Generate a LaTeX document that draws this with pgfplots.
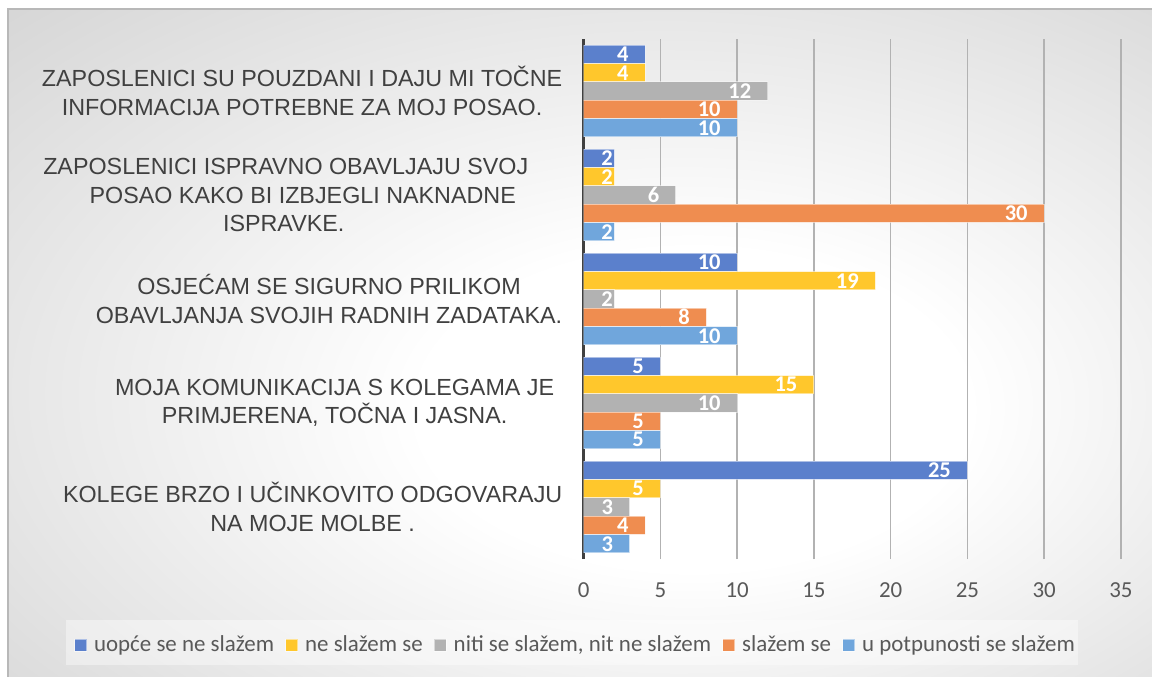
\documentclass[border=0pt]{standalone}
\usepackage{fontspec}
\setmainfont{Carlito}
\newfontfamily\arialf{Liberation Sans}
\usepackage{pgfplots}
\pgfplotsset{compat=1.18}

\definecolor{cA}{RGB}{91,128,204}
\definecolor{cB}{RGB}{255,199,44}
\definecolor{cC}{RGB}{178,178,178}
\definecolor{cD}{RGB}{239,141,80}
\definecolor{cE}{RGB}{112,166,220}
\pgfdeclareradialshading{bgshade}{\pgfpoint{6bp}{-6bp}}{color(0bp)=(white); color(12bp)=(white); color(48bp)=(black!21); color(72bp)=(black!29)}

\begin{document}
\begin{tikzpicture}
\path[use as bounding box] (0,0) rectangle (576bp,338.5bp);
\shade[shading=bgshade] (4bp,0) rectangle (576bp,334bp);
\draw[black!28, line width=0.8bp] (4bp,0) -- (4bp,334bp) -- (576bp,334bp);
% lighter box behind the legend
\fill[white, opacity=0.4] (33bp,5.8bp) rectangle (539bp,28.5bp);

\begin{axis}[at={(291.8bp,59bp)}, anchor=south west,
  scale only axis, width=268.65bp, height=260bp,
  xbar, bar width=0.176,
  xmin=0, xmax=35, ymin=0.5, ymax=5.5,
  xtick={0,5,...,35}, ytick={1,2,3,4,5},
  major tick length=0pt,
  axis line style={draw=none},
  xmajorgrids, grid style={black!30, line width=0.7bp},
  extra x ticks={0}, extra x tick labels={},
  extra x tick style={grid style={black!75, line width=1.8bp}},
  /pgf/number format/assume math mode=true,
  xticklabel style={font=\fontsize{11.5}{13}\selectfont, text=black!65, anchor=center, yshift=-15.5bp},
  yticklabel style={font=\arialf\fontsize{11.7}{14.2}\selectfont, text=black!75, align=center, anchor=east, inner sep=0pt, xshift=-10.5bp},
  yticklabels={
    {KOLEGE BRZO I UČINKOVITO ODGOVARAJU\\NA MOJE MOLBE .},
    {MOJA KOMUNIKACIJA S KOLEGAMA JE\hspace*{4bp}\\PRIMJERENA, TOČNA I JASNA.\hspace*{4bp}},
    {OSJEĆAM SE SIGURNO PRILIKOM\\OBAVLJANJA SVOJIH RADNIH ZADATAKA.},
    {ZAPOSLENICI ISPRAVNO OBAVLJAJU SVOJ\hspace*{17bp}\\POSAO KAKO BI IZBJEGLI NAKNADNE\hspace*{12bp}\\ISPRAVKE.\hspace*{19bp}},
    {ZAPOSLENICI SU POUZDANI I DAJU MI TOČNE\\INFORMACIJA POTREBNE ZA MOJ POSAO.}},
  point meta=x,
  nodes near coords,
  visualization depends on={x \as \rawx},
  every node near coord/.append style={font=\bfseries\fontsize{11.3}{11}\selectfont, text=white,
    anchor=east, inner sep=0pt, xshift={ifthenelse(\rawx<2.5,-0.5,-8)*1bp}},
  legend columns=-1,
  legend style={at={(-0.0141,-0.1654)}, anchor=center, draw=none, fill=none,
    font=\fontsize{11.5}{13}\selectfont, text=black!65,
    nodes={inner xsep=1.5bp},
    /tikz/every odd column/.append style={column sep=2bp},
    /tikz/every even column/.append style={column sep=4bp}},
  legend image code/.code={\draw[#1, draw=white, draw opacity=0.5] (0bp,-3bp) rectangle (6bp,3bp);},
  every axis plot/.append style={draw=white, draw opacity=0.5, line width=0.5bp},
]
\addplot[fill=cA, bar shift=0.353] coordinates {(4,5) (2,4) (10,3) (5,2) (25,1)};
\addplot[fill=cB, bar shift=0.176] coordinates {(4,5) (2,4) (19,3) (15,2) (5,1)};
\addplot[fill=cC, bar shift=0] coordinates {(12,5) (6,4) (2,3) (10,2) (3,1)};
\addplot[fill=cD, bar shift=-0.176] coordinates {(10,5) (30,4) (8,3) (5,2) (4,1)};
\addplot[fill=cE, bar shift=-0.353] coordinates {(10,5) (2,4) (10,3) (5,2) (3,1)};
\legend{uopće se ne slažem, ne slažem se, {niti se slažem, nit ne slažem}, slažem se, u potpunosti se slažem}
\end{axis}
\end{tikzpicture}
\end{document}
